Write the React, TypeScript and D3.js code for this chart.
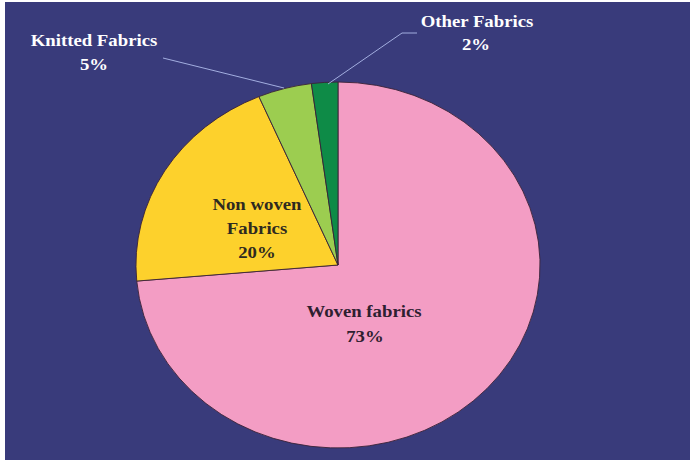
import React from "react";
import * as d3 from "d3";

const categories = ["Woven fabrics", "Non woven Fabrics", "Knitted Fabrics", "Other Fabrics"];
const values = [73.6, 20.0, 4.3, 2.1];
const percentLabels = ["73%", "20%", "5%", "2%"];
const colors = ["#f39dc4", "#fdd12c", "#9ccd50", "#0e8b47"];

const W = 690;
const H = 460;
const cx = 338;
const cy = 265;
const ry = 183;
const sx = 1.104;
const FONT = "'Liberation Serif', 'Times New Roman', serif";

export default function App() {
  React.useEffect(() => {
    document.body.style.margin = "0";
  }, []);
  const pie = d3.pie<number>().sort(null).value((d) => d)(values);
  const arc = d3.arc<d3.PieArcDatum<number>>().innerRadius(0).outerRadius(ry);

  const txt = (x: number, y: number, s: string, fill: string, key: string) => (
    <text
      key={key}
      transform={`translate(${x},${y}) scale(${sx},1)`}
      textAnchor="middle"
      fontFamily={FONT}
      fontWeight="bold"
      fontSize={17}
      fill={fill}
    >
      {s}
    </text>
  );

  return (
    <svg width={W} height={H} style={{ display: "block" }}>
      <rect x={0} y={0} width={W} height={H} fill="#ffffff" />
      <rect x={5} y={2} width={W - 5} height={H - 2} fill="#393b7b" />
      <g transform={`translate(${cx},${cy}) scale(${sx},1)`}>
        {pie.map((p, i) => (
          <path
            key={categories[i]}
            d={arc(p) || ""}
            fill={colors[i]}
            stroke="#3a2238"
            strokeWidth={0.9}
            vectorEffect="non-scaling-stroke"
          />
        ))}
      </g>
      {/* leader lines */}
      <polyline points="163,58 284,88" fill="none" stroke="#a3aee0" strokeWidth={1} />
      <polyline points="417,33 402,33 328,84" fill="none" stroke="#a3aee0" strokeWidth={1} />
      {/* labels */}
      {txt(364, 317, "Woven fabrics", "#2e2030", "w1")}
      {txt(365, 342, percentLabels[0], "#2e2030", "w2")}
      {txt(257, 210, "Non woven", "#2e2a20", "n1")}
      {txt(257, 234, "Fabrics", "#2e2a20", "n2")}
      {txt(257, 258, percentLabels[1], "#2e2a20", "n3")}
      {txt(94, 46, categories[2], "#ffffff", "k1")}
      {txt(94, 70, percentLabels[2], "#ffffff", "k2")}
      {txt(477, 27, categories[3], "#ffffff", "o1")}
      {txt(476, 50, percentLabels[3], "#ffffff", "o2")}
    </svg>
  );
}
